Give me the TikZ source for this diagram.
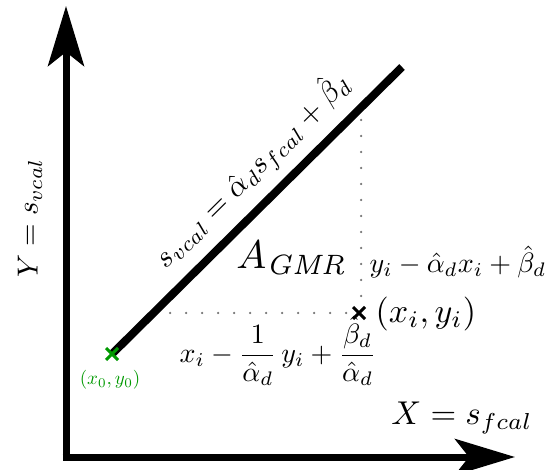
\documentclass[tikz,border=0pt]{standalone}
\usepackage{amsmath}
\usetikzlibrary{arrows.meta}
\begin{document}
\begin{tikzpicture}[x=1pt,y=-1pt,
  axis/.style={line width=7pt,-{Stealth[length=60pt,width=36pt,inset=14pt]}},
  fitline/.style={line width=8pt},
  dotline/.style={line width=2.5pt,line cap=round,dash pattern=on 0pt off 16pt,black!55},
  crossmark/.style={line width=3pt},
  lab/.style={inner sep=0pt}]
\useasboundingbox (0,0) rectangle (549,470);
% axes
\coordinate (O) at (66,457);
\coordinate (Ytip) at (66,6);
\coordinate (Xtip) at (515,457);
\draw[axis] ([yshift=3.5pt]O) -- (Ytip);
\draw[axis] ([xshift=-3.5pt]O) -- (Xtip);
% fit line
\coordinate (p0) at (112,354);
\coordinate (p1) at (402,67);
\draw[fitline] (p0) -- (p1)
  node[lab,pos=0.56,sloped,above=2pt,scale=3.0] (linelab)
  {$s_{vcal}=\hat{\alpha}_d s_{fcal}+\hat{\beta}_d$};
% green point
\draw[crossmark,green!60!black] ([shift={(-6,-6)}]p0) -- ([shift={(6,6)}]p0)
  ([shift={(-6,6)}]p0) -- ([shift={(6,-6)}]p0);
\node[lab,text=green!60!black,scale=1.9] (p0lab) at (110,380) {$(x_0,y_0)$};
% data point
\coordinate (pi) at (359,313);
\coordinate (vtop) at (361,120);
\coordinate (vbot) at (361,300);
\coordinate (hleft) at (170,313);
\draw[dotline] (vtop) -- (vbot);
\draw[dotline] (hleft) -- ([xshift=-12pt]pi);
\draw[crossmark] ([shift={(-6,-6)}]pi) -- ([shift={(6,6)}]pi)
  ([shift={(-6,6)}]pi) -- ([shift={(6,-6)}]pi);
\node[lab,anchor=west,scale=3.4] (pilab) at (375,314) {$(x_i,y_i)$};
% labels
\node[lab,scale=4.0] (agmr) at (292,258) {$A_{\mathit{GMR}}$};
\node[lab,anchor=west,scale=2.8] (vres) at (369,262)
  {$y_i-\hat{\alpha}_d x_i+\hat{\beta}_d$};
\node[lab,scale=2.8] (hres) at (278,351)
  {$x_i-\dfrac{1}{\hat{\alpha}_d}\,y_i+\dfrac{\hat{\beta}_d}{\hat{\alpha}_d}$};
\node[lab,rotate=90,scale=2.9] (ylab) at (30,218) {$Y=s_{vcal}$};
\node[lab,scale=3.3] (xlab) at (462,418) {$X=s_{fcal}$};
\end{tikzpicture}
\end{document}
